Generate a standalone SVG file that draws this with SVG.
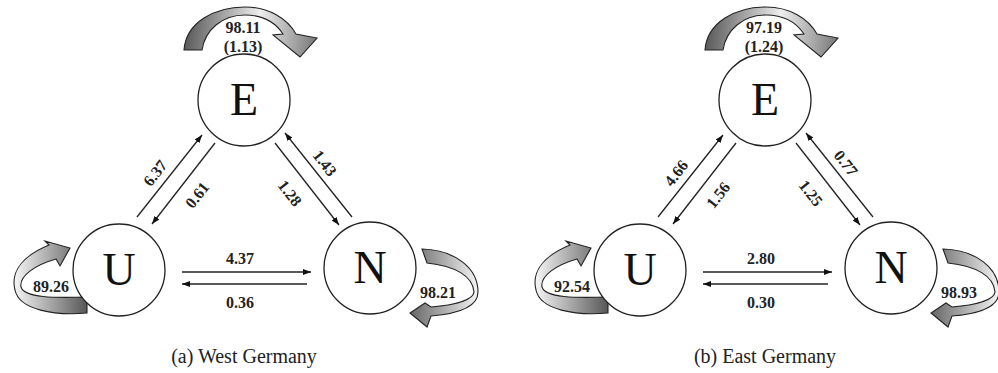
<svg xmlns="http://www.w3.org/2000/svg" width="998" height="373" viewBox="0 0 998 373">
<style>
.node{fill:#fff;stroke:#222;stroke-width:1.3}
.lt{font-family:"Liberation Serif","Times New Roman",serif;font-size:46px;fill:#111;text-anchor:middle}
.num{font-family:"Liberation Serif","Times New Roman",serif;font-size:16px;font-weight:bold;fill:#222;text-anchor:middle}
.cap{font-family:"Liberation Serif","Times New Roman",serif;font-size:20px;fill:#222;text-anchor:middle}
.edge{stroke:#222;stroke-width:1.3;fill:none;marker-end:url(#ah)}
.loop{stroke:#222;stroke-width:1.1}
</style>
<defs>
<marker id="ah" viewBox="0 0 8 6" refX="8" refY="3" markerWidth="8" markerHeight="6" orient="auto" markerUnits="userSpaceOnUse"><path d="M0,0 L8,3 L0,6 z" fill="#111"/></marker>
<linearGradient id="gE" gradientUnits="userSpaceOnUse" x1="184" y1="30" x2="317" y2="45"><stop offset="0" stop-color="#555"/><stop offset="0.55" stop-color="#eee"/><stop offset="1" stop-color="#777"/></linearGradient>
<linearGradient id="gU" gradientUnits="userSpaceOnUse" x1="15" y1="285" x2="88" y2="285"><stop offset="0" stop-color="#f4f4f4"/><stop offset="1" stop-color="#555"/></linearGradient>
<linearGradient id="gN" gradientUnits="userSpaceOnUse" x1="410" y1="285" x2="478" y2="285"><stop offset="0" stop-color="#666"/><stop offset="1" stop-color="#f4f4f4"/></linearGradient>
</defs>

<!-- (a) West Germany -->
<g id="westGermany">
<g id="connectors-a">
<line class="edge" x1="137" y1="217" x2="202" y2="135"/>
<line class="edge" x1="215" y1="143" x2="152" y2="224"/>
<line class="edge" x1="275" y1="143" x2="339" y2="225"/>
<line class="edge" x1="352" y1="217" x2="285" y2="133"/>
<line class="edge" x1="182" y1="272" x2="311" y2="272"/>
<line class="edge" x1="307" y1="284" x2="182" y2="284"/>
<text class="num" transform="translate(155,173) rotate(-51.6)" dy=".35em">6.37</text>
<text class="num" transform="translate(197,195) rotate(-51.6)" dy=".35em">0.61</text>
<text class="num" transform="translate(325,163) rotate(52)" dy=".35em">1.43</text>
<text class="num" transform="translate(290,193) rotate(52)" dy=".35em">1.28</text>
<text class="num" x="240" y="264">4.37</text>
<text class="num" x="240" y="308">0.36</text>
<path class="loop" fill="url(#gE)" d="M184,50 C186,22 215,7 245,7 C268,7 287,18 296,34 L317,38 L300,57 L273,35 L283,34 C275,22 262,15 245,15 C222,15 205,30 202,50 Z"/>
<path class="loop" fill="url(#gU)" d="M87,297 C55,298 24,298 21,287 C19,276 35,265 56,259 L60,266 L70,248 L45,241 L49,245 C25,255 10,270 15,290 C19,310 55,316 87,313 Z"/>
<path class="loop" fill="url(#gN)" d="M422,249 C455,250 478,268 478,292 C478,308 455,314 431,316 L427,327 L410,313 L425,303 L431,307 C455,305 473,300 474,292 C473,276 455,266 427,263 Z"/>
<text class="num" x="243" y="33">98.11</text>
<text class="num" x="243" y="52">(1.13)</text>
<text class="num" x="51" y="292">89.26</text>
<text class="num" x="438" y="298">98.21</text>
</g>
<g id="a-E"><circle class="node" cx="244" cy="100" r="46"/><text class="lt" x="244" y="115">E</text></g>
<g id="a-U"><circle class="node" cx="119" cy="270" r="46"/><text class="lt" x="119" y="285">U</text></g>
<g id="a-N"><circle class="node" cx="370" cy="268" r="46"/><text class="lt" x="370" y="283">N</text></g>
<text class="cap" x="244" y="363">(a) West Germany</text>
</g>

<!-- (b) East Germany -->
<g id="eastGermany" transform="translate(521,0)">
<g id="connectors-b">
<line class="edge" x1="137" y1="217" x2="202" y2="135"/>
<line class="edge" x1="215" y1="143" x2="152" y2="224"/>
<line class="edge" x1="275" y1="143" x2="339" y2="225"/>
<line class="edge" x1="352" y1="217" x2="285" y2="133"/>
<line class="edge" x1="182" y1="272" x2="311" y2="272"/>
<line class="edge" x1="307" y1="284" x2="182" y2="284"/>
<text class="num" transform="translate(155,173) rotate(-51.6)" dy=".35em">4.66</text>
<text class="num" transform="translate(197,195) rotate(-51.6)" dy=".35em">1.56</text>
<text class="num" transform="translate(325,163) rotate(52)" dy=".35em">0.77</text>
<text class="num" transform="translate(290,193) rotate(52)" dy=".35em">1.25</text>
<text class="num" x="240" y="264">2.80</text>
<text class="num" x="240" y="308">0.30</text>
<path class="loop" fill="url(#gE)" d="M184,50 C186,22 215,7 245,7 C268,7 287,18 296,34 L317,38 L300,57 L273,35 L283,34 C275,22 262,15 245,15 C222,15 205,30 202,50 Z"/>
<path class="loop" fill="url(#gU)" d="M87,297 C55,298 24,298 21,287 C19,276 35,265 56,259 L60,266 L70,248 L45,241 L49,245 C25,255 10,270 15,290 C19,310 55,316 87,313 Z"/>
<path class="loop" fill="url(#gN)" d="M422,249 C455,250 478,268 478,292 C478,308 455,314 431,316 L427,327 L410,313 L425,303 L431,307 C455,305 473,300 474,292 C473,276 455,266 427,263 Z"/>
<text class="num" x="243" y="33">97.19</text>
<text class="num" x="243" y="52">(1.24)</text>
<text class="num" x="51" y="292">92.54</text>
<text class="num" x="438" y="298">98.93</text>
</g>
<g id="b-E"><circle class="node" cx="244" cy="100" r="46"/><text class="lt" x="244" y="115">E</text></g>
<g id="b-U"><circle class="node" cx="119" cy="270" r="46"/><text class="lt" x="119" y="285">U</text></g>
<g id="b-N"><circle class="node" cx="370" cy="268" r="46"/><text class="lt" x="370" y="283">N</text></g>
<text class="cap" x="244" y="363">(b) East Germany</text>
</g>
</svg>
